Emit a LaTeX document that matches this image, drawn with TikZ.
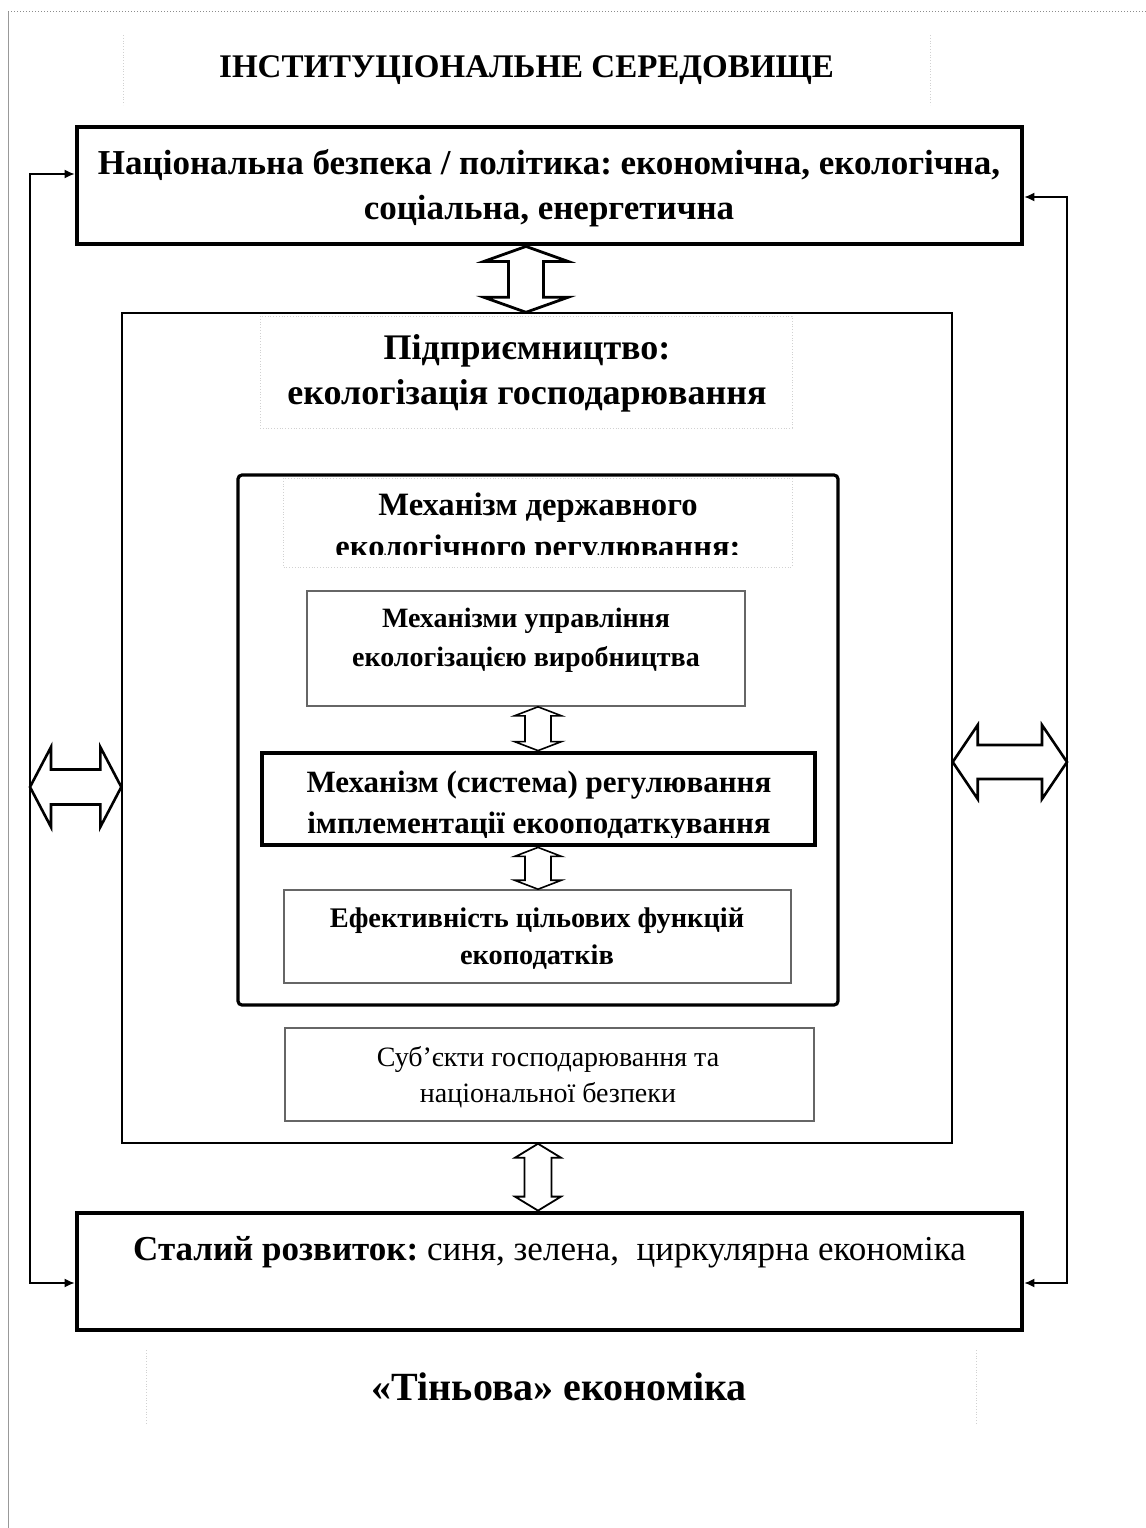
\documentclass[tikz,border=0pt]{standalone}
\usepackage{fontspec}
\setmainfont{Liberation Serif}
\frenchspacing
\usetikzlibrary{calc, fit, arrows.meta}

% hollow double block arrows: [style]{tip 1}{tip 2}{half shaft}{half head}{head length}
\newcommand{\vblock}[6][]{%
	\path (#2) coordinate (ta) (#3) coordinate (tb);
	\draw[blk, #1] (ta) -- ($(ta)+(#5,#6)$) -- ($(ta)+(#4,#6)$) -- ($(tb)+(#4,-#6)$) -- ($(tb)+(#5,-#6)$) -- (tb)
		-- ($(tb)+(-#5,-#6)$) -- ($(tb)+(-#4,-#6)$) -- ($(ta)+(-#4,#6)$) -- ($(ta)+(-#5,#6)$) -- cycle;}
\newcommand{\hblock}[6][]{%
	\path (#2) coordinate (ta) (#3) coordinate (tb);
	\draw[blk, #1] (ta) -- ($(ta)+(#6,-#5)$) -- ($(ta)+(#6,-#4)$) -- ($(tb)+(-#6,-#4)$) -- ($(tb)+(-#6,-#5)$) -- (tb)
		-- ($(tb)+(-#6,#5)$) -- ($(tb)+(-#6,#4)$) -- ($(ta)+(#6,#4)$) -- ($(ta)+(#6,#5)$) -- cycle;}

\begin{document}
\begin{tikzpicture}[x=0.5pt, y=-0.5pt,
				   >={Latex[length=5pt, width=4.5pt]},
				   heavy/.style={draw=black, line width=2.4pt, inner sep=0pt},
				   thinbox/.style={draw=black, line width=0.7pt, inner sep=0pt},
				   mechbox/.style={draw=black, line width=1.6pt, rounded corners=2pt, inner sep=0pt},
				   greybox/.style={draw=black!60, line width=0.8pt, inner sep=0pt},
				   faint/.style={draw=black!18, line width=0.4pt, densely dotted},
				   blk/.style={draw=black, fill=white, line width=1.3pt},
				   conn/.style={draw=black, line width=0.7pt},
				   txt/.style={inner sep=0pt, align=center},
				   big/.style={font=\bfseries\fontsize{17.5}{22.5}\selectfont},
				   small/.style={font=\bfseries\fontsize{14}{19.5}\selectfont}]
\useasboundingbox (0,0) rectangle (1146,1528);
\draw[black!40, line width=0.5pt] (8,1528) -- (8,11);
\draw[black!45, line width=0.5pt, densely dotted] (8,11) -- (1146,11);

% title
\draw[faint] (123,35) -- (123,105) (930,35) -- (930,105);
\node[txt, anchor=base, font=\bfseries\fontsize{16.5}{20}\selectfont] (inst) at (526.5,77) {ІНСТИТУЦІОНАЛЬНЕ СЕРЕДОВИЩЕ};

% outer level
\node[heavy, fit={(77,127) (1022,244)}] (nat) {};
\node[txt, big] (nattxt) at (549,188) {Національна безпека / політика: економічна, екологічна,\\соціальна, енергетична};
\node[heavy, fit={(77,1213) (1022,1330)}] (sust) {};
\node[txt, anchor=base, font=\fontsize{17.5}{22.5}\selectfont] (susttxt) at (549.5,1260)
	{\textbf{Сталий розвиток:} синя, зелена,\ \ циркулярна економіка};

\coordinate (lw) at (30,0);
\coordinate (rw) at (1067,0);

% enterprise
\node[thinbox, fit={(122,313) (952,1143)}] (ent) {};
\draw[faint] (260,316) rectangle (792,428);
\node[txt, font=\bfseries\fontsize{18}{22.5}\selectfont] (enttxt) at (527,373) {Підприємництво:\\екологізація господарювання};

% state mechanism
\node[mechbox, fit={(238,475) (838,1005)}] (mech) {};
\draw[faint] (283,478) rectangle (792,567);
\begin{scope}
	\clip (283,478) rectangle (792,554);
	\node[txt, font=\bfseries\fontsize{16.3}{21}\selectfont] (mechtxt) at (538,529) {Механізм державного\\екологічного регулювання:};
\end{scope}

\node[greybox, fit={(307,591) (745,706)}] (m1) {};
\node[txt, small] (m1txt) at (526,640) {Механізми управління\\екологізацією виробництва};

\begin{scope}
	\clip (262,753) rectangle (815,837);
	\node[txt, font=\bfseries\fontsize{15.5}{20.5}\selectfont] (m2txt) at (539,806) {Механізм (система) регулювання\\імплементації екооподаткування};
\end{scope}
\node[heavy, fit={(262,753) (815,845)}] (m2) {};

\node[greybox, fit={(284,890) (791,983)}] (m3) {};
\node[txt, font=\bfseries\fontsize{14.2}{18.5}\selectfont] (m3txt) at (537,938.7) {Ефективність цільових функцій\\екоподатків};

\node[greybox, fit={(285,1028) (814,1121)}] (subj) {};
\node[txt, font=\fontsize{14}{18}\selectfont] (subjtxt) at (548,1077.3) {Суб’єкти господарювання та\\національної безпеки};

% shadow economy
\draw[faint] (146,1350) -- (146,1423) (976,1350) -- (976,1423);
\node[txt, anchor=base, font=\bfseries\fontsize{20}{24}\selectfont] (shadow) at (559,1400) {«Тіньова» економіка};

% block arrows
\vblock[line width=1.4pt]{526,0 |- nat.south}{526,0 |- ent.north}{17.5}{42}{15}
\vblock[line width=0.8pt]{538,0 |- m1.south}{538,0 |- m2.north}{13}{23.5}{9}
\vblock[line width=0.8pt]{538,0 |- m2.south}{538,0 |- m3.north}{13}{23.5}{9}
\vblock[line width=0.9pt]{538,0 |- ent.south}{538,0 |- sust.north}{13.5}{23}{14}
\hblock{lw |- 0,787}{ent.west |- 0,787}{17.5}{40}{21}
\hblock{ent.east |- 0,762}{rw |- 0,762}{17}{37}{25}

% feedback lines
\draw[conn, <->] (nat.west |- 0,174) -| (lw |- 0,1283) -- (sust.west |- 0,1283);
\draw[conn, <->] (nat.east |- 0,197) -| (rw |- 0,1283) -- (sust.east |- 0,1283);
\end{tikzpicture}
\end{document}
